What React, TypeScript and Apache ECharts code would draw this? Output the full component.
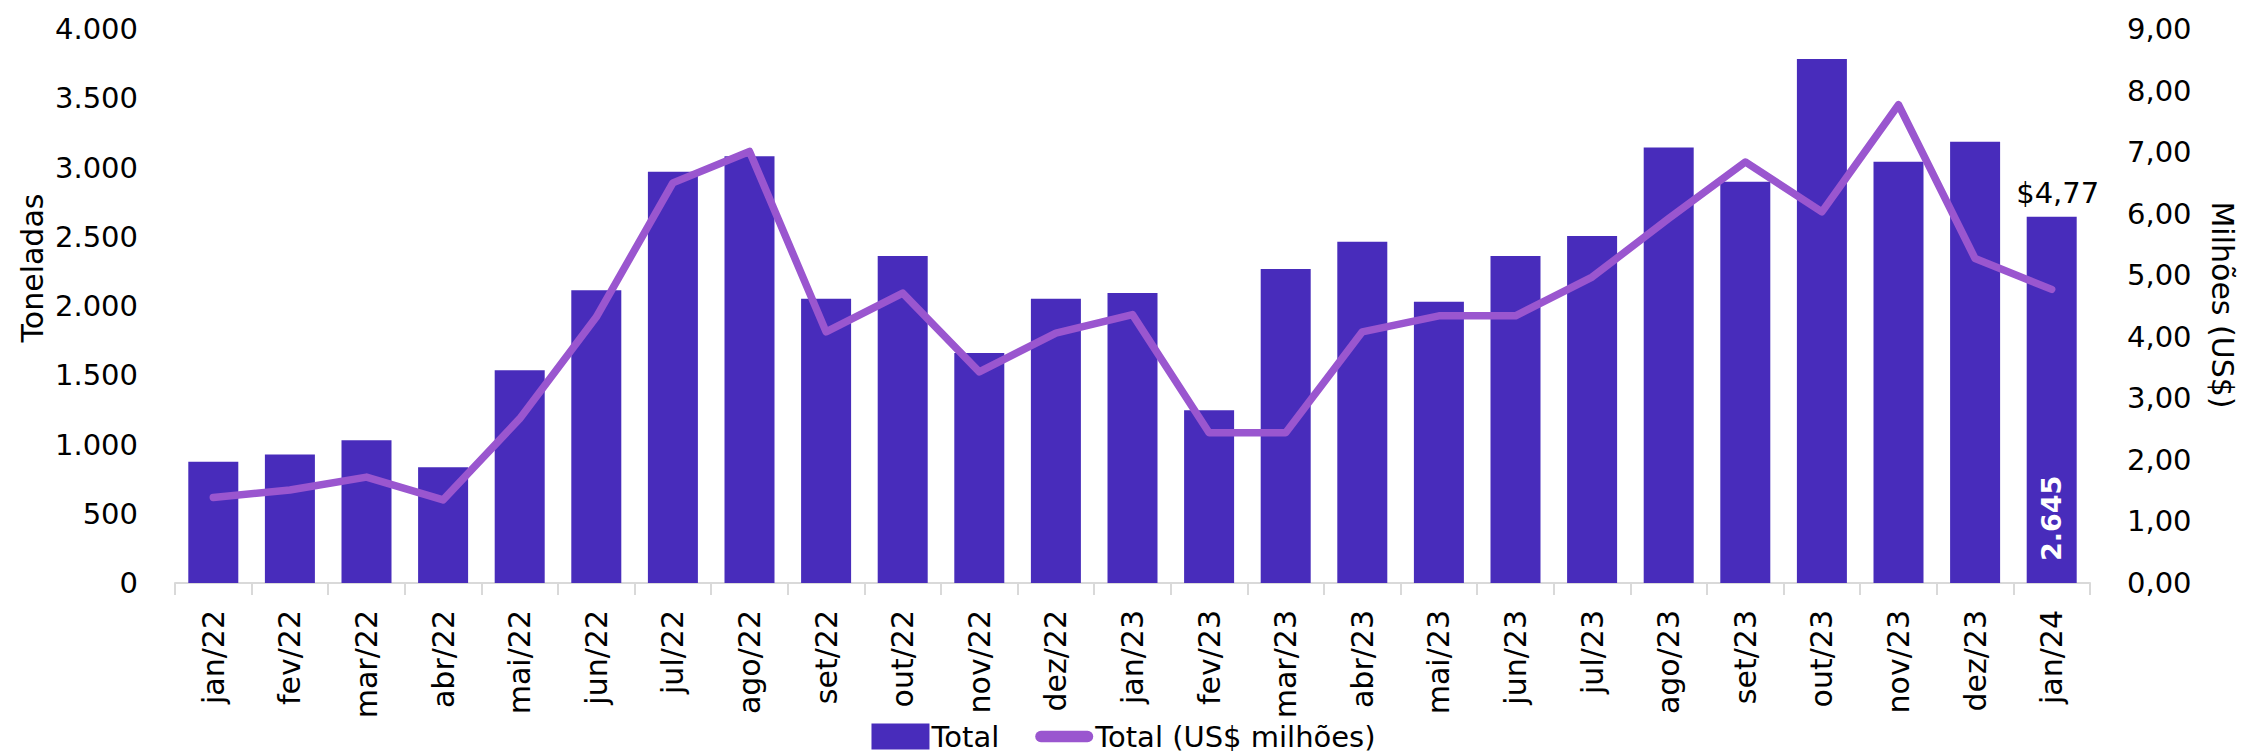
import React, { useEffect, useRef } from "react";
import * as echarts from "echarts";

const categories = [
  "jan/22", "fev/22", "mar/22", "abr/22", "mai/22", "jun/22", "jul/22", "ago/22",
  "set/22", "out/22", "nov/22", "dez/22", "jan/23", "fev/23", "mar/23", "abr/23",
  "mai/23", "jun/23", "jul/23", "ago/23", "set/23", "out/23", "nov/23", "dez/23", "jan/24",
];

const toneladas = [
  876, 928, 1031, 835, 1536, 2113, 2969, 3082, 2052, 2361, 1660, 2052, 2093,
  1247, 2268, 2464, 2031, 2361, 2505, 3144, 2897, 3784, 3041, 3186, 2645,
];

const milhoesUSD = [
  1.39, 1.51, 1.72, 1.35, 2.67, 4.32, 6.5, 7.01, 4.08, 4.71, 3.43, 4.06, 4.36,
  2.44, 2.44, 4.08, 4.34, 4.34, 4.97, 5.92, 6.84, 6.03, 7.77, 5.27, 4.77,
];

const leftTicks = { min: 0, max: 4000, interval: 500 };
const rightTicks = { min: 0, max: 9, interval: 1 };

const FONT = "DejaVu Sans";
const BAR_COLOR = "#482CBB";
const LINE_COLOR = "#9A56CF";
const TEXT_COLOR = "#000000";
const AXIS_COLOR = "#D9D9D9";

const fmtThousands = (v: number) =>
  String(Math.round(v)).replace(/\B(?=(\d{3})+(?!\d))/g, ".");
const fmtDecimal = (v: number) => v.toFixed(2).replace(".", ",");

export default function App() {
  const ref = useRef<HTMLDivElement>(null);

  useEffect(() => {
    document.body.style.margin = "0";
    if (!ref.current) return;
    const chart = echarts.init(ref.current, undefined, { renderer: "svg" });
    const last = categories.length - 1;

    const barData = toneladas.map((v, i) =>
      i === last
        ? {
            value: v,
            label: {
              show: true,
              position: "insideBottom",
              rotate: 90,
              align: "left",
              verticalAlign: "middle",
              distance: 22,
              color: "#FFFFFF",
              fontWeight: "bold",
              fontSize: 27,
              fontFamily: FONT,
              formatter: (p: any) => fmtThousands(p.value),
            },
          }
        : v
    );

    const lineData = milhoesUSD.map((v, i) =>
      i === last
        ? {
            value: v,
            label: {
              show: true,
              position: "top",
              distance: 0,
              offset: [6, -81],
              color: TEXT_COLOR,
              fontSize: 29,
              fontFamily: FONT,
              formatter: (p: any) => "$" + fmtDecimal(p.value),
            },
          }
        : v
    );

    chart.setOption({
      animation: false,
      textStyle: { fontFamily: FONT, color: TEXT_COLOR },
      grid: { left: 175, right: 157, top: 29, bottom: 171, containLabel: false },
      legend: {
        top: 717,
        left: "center",
        itemWidth: 58,
        itemHeight: 26,
        itemGap: 36,
        textStyle: { fontSize: 29, fontFamily: FONT, color: TEXT_COLOR, padding: [0, 0, 0, -3] },
        data: [
          { name: "Total", icon: "rect" },
          {
            name: "Total (US$ milhões)",
            icon: "path://M6,0 L55,0 A6,6 0 0 1 55,12 L6,12 A6,6 0 0 1 6,0 Z",
            itemStyle: { color: LINE_COLOR },
          },
        ],
      },
      xAxis: {
        type: "category",
        data: categories,
        boundaryGap: true,
        axisLine: { show: true, lineStyle: { color: AXIS_COLOR, width: 2 } },
        axisTick: { show: true, length: 12, lineStyle: { color: AXIS_COLOR, width: 2 } },
        axisLabel: {
          rotate: 90,
          margin: 27,
          fontSize: 30,
          fontFamily: FONT,
          color: TEXT_COLOR,
          interval: 0,
        },
      },
      yAxis: [
        {
          type: "value",
          min: leftTicks.min,
          max: leftTicks.max,
          interval: leftTicks.interval,
          splitLine: { show: false },
          axisLine: { show: false },
          axisTick: { show: false },
          axisLabel: {
            margin: 37,
            fontSize: 29,
            fontFamily: FONT,
            color: TEXT_COLOR,
            formatter: (v: number) => fmtThousands(v),
          },
        },
        {
          type: "value",
          min: rightTicks.min,
          max: rightTicks.max,
          interval: rightTicks.interval,
          position: "right",
          splitLine: { show: false },
          axisLine: { show: false },
          axisTick: { show: false },
          axisLabel: {
            margin: 37,
            fontSize: 29,
            fontFamily: FONT,
            color: TEXT_COLOR,
            formatter: (v: number) => fmtDecimal(v),
          },
        },
      ],
      graphic: [
        {
          type: "text",
          x: 32,
          y: 268,
          rotation: Math.PI / 2,
          style: {
            text: "Toneladas",
            fontSize: 30,
            fontFamily: FONT,
            fill: TEXT_COLOR,
            align: "center",
            verticalAlign: "middle",
          },
        },
        {
          type: "text",
          x: 2222,
          y: 305,
          rotation: -Math.PI / 2,
          style: {
            text: "Milhões (US$)",
            fontSize: 30,
            fontFamily: FONT,
            fill: TEXT_COLOR,
            align: "center",
            verticalAlign: "middle",
          },
        },
      ],
      series: [
        {
          name: "Total",
          type: "bar",
          yAxisIndex: 0,
          barWidth: 50,
          itemStyle: { color: BAR_COLOR },
          data: barData,
        },
        {
          name: "Total (US$ milhões)",
          type: "line",
          yAxisIndex: 1,
          showSymbol: true,
          symbol: "circle",
          symbolSize: 1,
          lineStyle: { color: LINE_COLOR, width: 7.5, cap: "round", join: "round" },
          itemStyle: { color: LINE_COLOR },
          data: lineData,
        },
      ],
    });

    return () => chart.dispose();
  }, []);

  return <div ref={ref} style={{ width: 2247, height: 754 }} />;
}
